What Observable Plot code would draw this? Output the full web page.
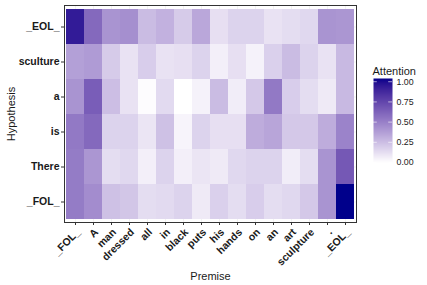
<!DOCTYPE html>
<html>
<head>
<meta charset="utf-8">
<script src="https://cdn.jsdelivr.net/npm/d3@7"></script>
<script src="https://cdn.jsdelivr.net/npm/@observablehq/plot@0.6"></script>
<style>
  body { margin: 0; background: #fff; }
  #wrap { position: relative; width: 427px; height: 285px; overflow: hidden; }
  #wrap svg { position: absolute; top: 0; background: transparent; }
</style>
</head>
<body>
<div id="wrap"></div>
<script>
// Premise tokens (x, left to right)
const premise = ["_FOL_", "A", "man", "dressed", "all", "in", "black", "puts", "his", "hands", "on", "an", "art", "sculpture", ".", "_EOL_"];
// Hypothesis tokens (y, bottom to top)
const hypothesis = ["_FOL_", "There", "is", "a", "sculture", "_EOL_"];

// Attention values, one array per hypothesis token (columns follow premise)
const rowFOL      = [0.52, 0.45, 0.24, 0.22, 0.13, 0.14, 0.17, 0.08, 0.18, 0.13, 0.19, 0.13, 0.15, 0.21, 0.42, 1.04];
const rowThere    = [0.52, 0.41, 0.13, 0.15, 0.06, 0.17, 0.06, 0.10, 0.08, 0.15, 0.17, 0.17, 0.07, 0.13, 0.42, 0.67];
const rowIs       = [0.53, 0.60, 0.17, 0.17, 0.10, 0.24, 0.04, 0.17, 0.12, 0.12, 0.32, 0.35, 0.21, 0.21, 0.32, 0.49];
const rowA        = [0.42, 0.65, 0.25, 0.11, 0.01, 0.14, 0.00, 0.05, 0.26, 0.07, 0.21, 0.53, 0.19, 0.13, 0.08, 0.27];
const rowSculture = [0.37, 0.39, 0.20, 0.11, 0.19, 0.11, 0.12, 0.17, 0.06, 0.12, 0.05, 0.18, 0.26, 0.17, 0.11, 0.27];
const rowEOL      = [0.94, 0.60, 0.42, 0.44, 0.26, 0.30, 0.20, 0.34, 0.12, 0.17, 0.17, 0.11, 0.13, 0.15, 0.42, 0.41];

const legendTicks = [0, 0.25, 0.5, 0.75, 1.0];

const rows = [rowFOL, rowThere, rowIs, rowA, rowSculture, rowEOL];
const data = [];
hypothesis.forEach((h, i) => {
  premise.forEach((p, j) => data.push({premise: p, hypothesis: h, value: rows[i][j]}));
});
const maxVal = d3.max(data, d => d.value);
const minVal = Math.min(0, d3.min(data, d => d.value));

const font = "'Liberation Sans', Arial, Helvetica, sans-serif";
const colorScale = {type: "linear", domain: [minVal, maxVal], range: ["white", "darkblue"], interpolate: "lab"};

const main = Plot.plot({
  width: 427,
  height: 285,
  marginLeft: 64,
  marginRight: 71,
  marginTop: 5,
  marginBottom: 63,
  style: {fontFamily: font, background: "transparent", color: "#1a1a1a"},
  x: {type: "band", domain: premise, paddingInner: 0, paddingOuter: 0.1, axis: null},
  y: {type: "band", domain: hypothesis.slice().reverse(), paddingInner: 0, paddingOuter: 0.1, axis: null},
  color: colorScale,
  marks: [
    Plot.gridX(premise, {x: d => d, stroke: "#ebebeb", strokeOpacity: 1, strokeWidth: 0.6}),
    Plot.gridY(hypothesis, {y: d => d, stroke: "#ebebeb", strokeOpacity: 1, strokeWidth: 0.6}),
    Plot.cell(data, {x: "premise", y: "hypothesis", fill: "value", inset: 0}),
    Plot.frame({stroke: "#333333", strokeWidth: 1}),
    Plot.axisY({tickSize: 3, tickPadding: 2, fontSize: 10.5, fontWeight: "bold", stroke: "#333333", fill: "#1a1a1a", label: null}),
    Plot.axisX({tickSize: 3, tickFormat: () => "", stroke: "#333333", label: null}),
    Plot.text(premise, {x: d => d, text: d => d, frameAnchor: "bottom", dy: 5, rotate: -45, textAnchor: "end", lineAnchor: "top", fontWeight: "bold", fontSize: 10.5, fill: "#1a1a1a"}),
    Plot.text(["Hypothesis"], {text: d => d, frameAnchor: "left", dx: -53, rotate: -90, textAnchor: "middle", lineAnchor: "middle", fontSize: 11, fill: "#1a1a1a"}),
    Plot.text(["Premise"], {text: d => d, frameAnchor: "bottom", dy: 54, textAnchor: "middle", lineAnchor: "middle", fontSize: 11, fill: "#1a1a1a"})
  ]
});
main.style.left = "0px";
document.getElementById("wrap").appendChild(main);

const legend = Plot.plot({
  width: 67,
  height: 285,
  marginLeft: 13,
  marginRight: 35,
  marginTop: 78,
  marginBottom: 123,
  style: {fontFamily: font, background: "transparent", color: "#1a1a1a", overflow: "visible"},
  x: {domain: [0, 1], axis: null},
  y: {domain: [minVal, maxVal], axis: null},
  color: colorScale,
  marks: [
    Plot.raster({x1: 0, x2: 1, y1: minVal, y2: maxVal, fill: (x, y) => y, pixelSize: 1, imageRendering: "auto"}),
    Plot.ruleY(legendTicks, {y: d => d, x1: 0, x2: 0.2, stroke: "white", strokeWidth: 0.6}),
    Plot.ruleY(legendTicks, {y: d => d, x1: 0.8, x2: 1, stroke: "white", strokeWidth: 0.6}),
    Plot.axisY({anchor: "right", ticks: legendTicks, tickFormat: d3.format(".2f"), tickSize: 0, tickPadding: 4, fontSize: 8.8, fill: "#1a1a1a", label: null}),
    Plot.text(["Attention"], {text: d => d, frameAnchor: "top-left", dx: -1, dy: -4, textAnchor: "start", lineAnchor: "bottom", fontSize: 11, fill: "#1a1a1a"})
  ]
});
legend.style.left = "360px";
document.getElementById("wrap").appendChild(legend);
</script>
</body>
</html>
